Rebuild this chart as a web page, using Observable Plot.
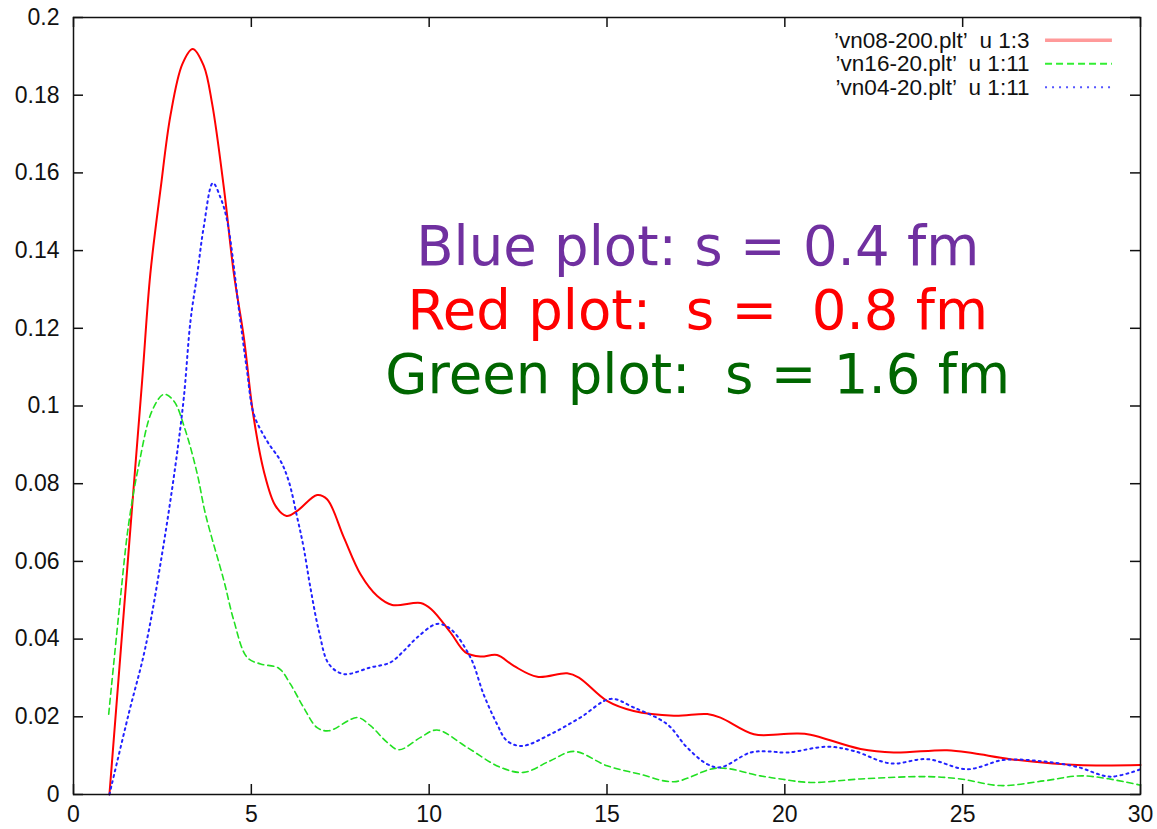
<!DOCTYPE html>
<html><head><meta charset="utf-8">
<script src="https://cdn.jsdelivr.net/npm/d3@7"></script>
<script src="https://cdn.jsdelivr.net/npm/@observablehq/plot@0.6"></script>
<style>
body{margin:0;background:#fff;}
svg text{white-space:pre;}
</style></head><body><div id="chart"></div>
<script>
// ---- data ----
const redX = [1.01,1.6,1.93,2.16,2.45,2.73,3.06,3.35,3.66,3.9,4.23,4.51,4.79,5.05,5.35,5.68,5.99,6.29,6.85,7.13,7.6,8.07,8.54,8.96,9.76,10.06,10.6,11.02,11.44,11.91,12.38,13.04,13.88,14.21,15.0,15.75,16.88,17.82,18.19,19.13,19.88,20.35,20.72,22.13,23.06,24.56,25.31,26.34,28.22,30];
const redY = [0,0.0685,0.1065,0.134,0.156,0.175,0.188,0.1919,0.1876,0.1777,0.156,0.134,0.1176,0.098,0.0833,0.0743,0.0717,0.073,0.0771,0.076,0.0662,0.0567,0.0511,0.0488,0.0493,0.0477,0.0417,0.0366,0.0355,0.0359,0.0331,0.0303,0.0312,0.0301,0.0241,0.0215,0.0203,0.0207,0.0198,0.0155,0.0155,0.0157,0.0154,0.0117,0.0108,0.0114,0.0106,0.0091,0.0076,0.0076];

const greenX = [0.99,1.32,1.55,1.84,2.21,2.54,2.82,3.15,3.48,3.71,4.23,4.51,4.88,5.26,5.77,6.1,6.47,6.85,7.18,7.98,8.35,8.82,9.15,9.76,10.22,11.07,12.0,12.66,13.41,14.07,15.0,15.94,16.88,18.1,19.31,19.88,20.72,22.13,24.0,24.94,26.06,27.28,28.4,30];
const greenY = [0.0207,0.0507,0.0696,0.085,0.0988,0.103,0.1013,0.0936,0.0825,0.0722,0.055,0.0447,0.0353,0.0336,0.0325,0.0284,0.0224,0.0172,0.0164,0.0198,0.0177,0.0134,0.0115,0.0147,0.0166,0.0121,0.007,0.0057,0.0087,0.0111,0.0074,0.0052,0.0033,0.0068,0.0048,0.004,0.0031,0.004,0.0046,0.004,0.0023,0.0035,0.0048,0.0024];

const blueX = [1.01,1.55,2.02,2.49,2.87,3.1,3.29,3.48,3.66,3.92,4.13,4.32,4.69,4.88,5.07,5.44,5.82,6.05,6.29,6.47,6.66,6.9,7.18,7.6,8.35,8.91,9.29,9.66,10.22,10.6,11.16,11.53,11.91,12.19,12.61,13.41,14.25,15.1,15.75,16.69,17.25,17.82,18.19,19.03,19.5,20.06,21.19,21.94,22.97,24.0,25.13,26.16,27.28,28.22,29.15,30];
const blueY = [0,0.0207,0.0378,0.0619,0.085,0.102,0.122,0.134,0.146,0.1574,0.1537,0.1477,0.122,0.109,0.0979,0.091,0.0859,0.0807,0.0713,0.0636,0.0533,0.0421,0.0336,0.031,0.0327,0.034,0.037,0.0404,0.0439,0.0426,0.0353,0.0258,0.0181,0.0138,0.0125,0.0155,0.0198,0.0246,0.0224,0.0181,0.0121,0.0078,0.007,0.0108,0.0111,0.0108,0.0123,0.0112,0.008,0.0091,0.0065,0.0089,0.0085,0.0071,0.0046,0.0065];

const xTicks = [0,5,10,15,20,25,30];
const xTickLabels = ["0","5","10","15","20","25","30"];
const yTicks = [0,0.02,0.04,0.06,0.08,0.1,0.12,0.14,0.16,0.18,0.2];
const yTickLabels = ["0","0.02","0.04","0.06","0.08","0.1","0.12","0.14","0.16","0.18","0.2"];

const legendLabels = ["\u2019vn08-200.plt\u2019  u 1:3","\u2019vn16-20.plt\u2019  u 1:11","\u2019vn04-20.plt\u2019  u 1:11"];
const noteLabels = ["Blue plot: s = 0.4 fm","Red plot:  s =  0.8 fm","Green plot:  s = 1.6 fm"];

// ---- styles ----
const noteColors = ["#7030a0","#ff0000","#006600"];
const lineStyles = [
  {stroke:"#ff0000", strokeWidth:2, dash:null},
  {stroke:"#22e022", strokeWidth:1.6, dash:"6,4"},
  {stroke:"#2222ff", strokeWidth:2, dash:"2,4"}
];
const legendStyles = [
  {stroke:"#ff9a9a", strokeWidth:3.5, dash:null},
  {stroke:"#33ee33", strokeWidth:2, dash:"7,4"},
  {stroke:"#5555ff", strokeWidth:2, dash:"2,5"}
];

const series = [
  redX.map((x,i)=>({x, y:redY[i]})),
  greenX.map((x,i)=>({x, y:greenY[i]})),
  blueX.map((x,i)=>({x, y:blueY[i]}))
];

const W=1157, H=829, mL=73, mR=17, mT=17, mB=35;
const pw = W-mL-mR, ph = H-mT-mB;
const yFromTop = off => 0.2 - off*0.2/ph;

const marks = [];
// axis labels
marks.push(Plot.axisX(xTicks, {tickSize:0, tickPadding:11, fontSize:23, fill:"#111", label:null,
  tickFormat: d => xTickLabels[xTicks.indexOf(d)]}));
marks.push(Plot.axisY(yTicks, {tickSize:0, tickPadding:14, fontSize:23, fill:"#111", label:null,
  tickFormat: d => yTickLabels[yTicks.indexOf(d)]}));
// inward ticks on all four sides
marks.push(Plot.tickX(xTicks, {x:d=>d, insetTop: ph-10, stroke:"#111", strokeWidth:1.5}));
marks.push(Plot.tickX(xTicks, {x:d=>d, insetBottom: ph-10, stroke:"#111", strokeWidth:1.5}));
marks.push(Plot.tickY(yTicks, {y:d=>d, insetRight: pw-10, stroke:"#111", strokeWidth:1.5}));
marks.push(Plot.tickY(yTicks, {y:d=>d, insetLeft: pw-10, stroke:"#111", strokeWidth:1.5}));
// curves
series.forEach((s,i)=>{
  const st = lineStyles[i];
  marks.push(Plot.line(s, {x:"x", y:"y", stroke:st.stroke, strokeWidth:st.strokeWidth,
    strokeDasharray: st.dash ?? undefined, curve:"catmull-rom"}));
});
// annotation
noteLabels.forEach((t,i)=>{
  marks.push(Plot.text([t], {x:()=>17.55, y:()=>0.1364 - i*0.0165, text:d=>d,
    fill:noteColors[i], fontSize:54.5, fontFamily:"'DejaVu Sans', Verdana, sans-serif",
    textAnchor:"middle", lineAnchor:"bottom"}));
});
// legend
const legOff = [22.8, 46.3, 69.8];
legendLabels.forEach((t,i)=>{
  marks.push(Plot.text([t], {frameAnchor:"top-right", dx:-111, dy:legOff[i], text:d=>d,
    fill:"#111", fontSize:22.5, textAnchor:"end", lineAnchor:"middle"}));
  const st = legendStyles[i];
  marks.push(Plot.ruleY([yFromTop(legOff[i])], {y:d=>d, x1:()=>27.33, x2:()=>29.21,
    stroke:st.stroke, strokeWidth:st.strokeWidth, strokeDasharray: st.dash ?? undefined}));
});
marks.push(Plot.frame({stroke:"#111", strokeWidth:1.5}));

const chart = Plot.plot({
  width:W, height:H, marginLeft:mL, marginRight:mR, marginTop:mT, marginBottom:mB,
  style:{fontFamily:"'Liberation Sans', Arial, sans-serif", background:"white", fontSize:"23px"},
  x:{domain:[0,30], label:null}, y:{domain:[0,0.2], label:null},
  marks
});
document.getElementById("chart").appendChild(chart);
</script></body></html>
